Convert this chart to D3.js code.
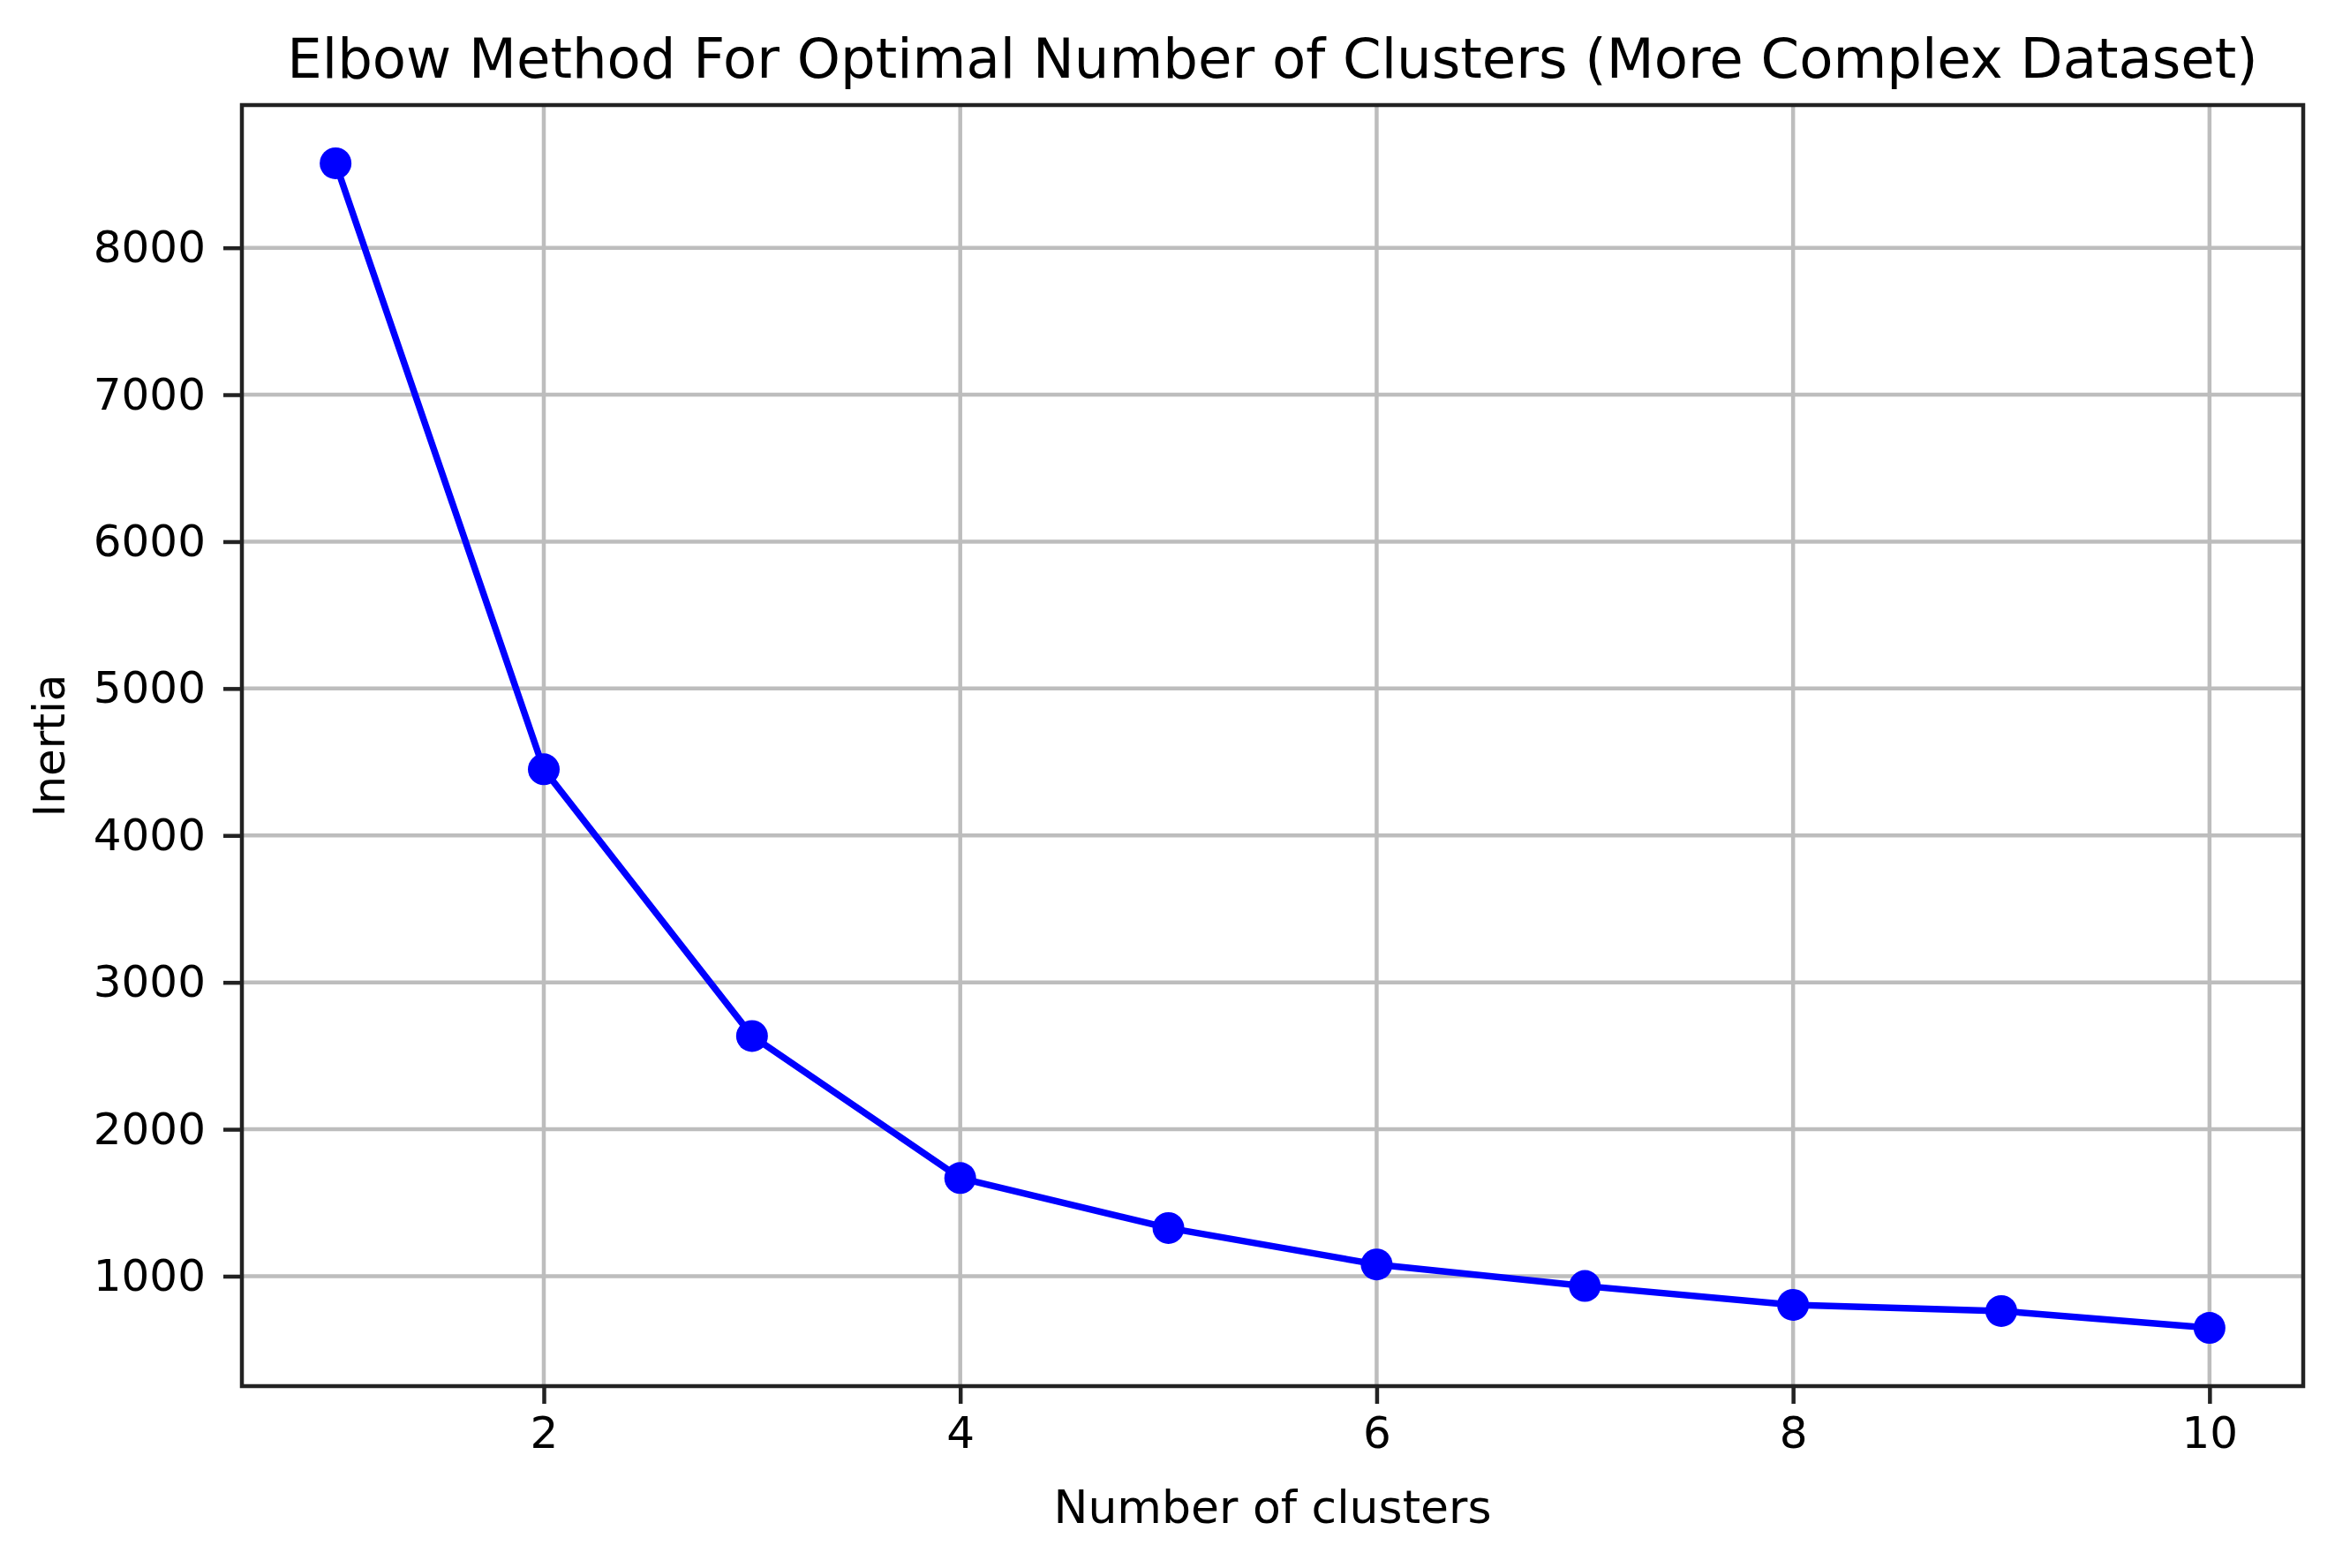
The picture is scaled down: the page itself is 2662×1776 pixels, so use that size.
<!DOCTYPE html>
<html>
<head>
<meta charset="utf-8">
<script src="https://cdn.jsdelivr.net/npm/d3@7"></script>
<style>
  html, body { margin: 0; padding: 0; background: #fff; }
  svg { display: block; }
  text { font-family: "DejaVu Sans", sans-serif; fill: #000; }
</style>
</head>
<body>
<svg id="chart" width="2662" height="1776"></svg>
<script>
// ---- data ----
const clusters = [1, 2, 3, 4, 5, 6, 7, 8, 9, 10];
const inertia = [8575, 4450, 2635, 1668, 1328, 1080, 933, 805, 763, 648];
const xTicks = [2, 4, 6, 8, 10];
const yTicks = [1000, 2000, 3000, 4000, 5000, 6000, 7000, 8000];
const titleText = "Elbow Method For Optimal Number of Clusters (More Complex Dataset)";
const xLabelText = "Number of clusters";
const yLabelText = "Inertia";

// ---- layout ----
const W = 2662, H = 1776;
const plot = { left: 274, right: 2609, top: 119, bottom: 1570 };

const svg = d3.select("#chart");

// matplotlib-style 5% margins
const xMin = d3.min(clusters), xMax = d3.max(clusters);
const xPad = (xMax - xMin) * 0.05;
const yMin = d3.min(inertia), yMax = d3.max(inertia);
const yPad = (yMax - yMin) * 0.05;

const x = d3.scaleLinear().domain([xMin - xPad, xMax + xPad]).range([plot.left, plot.right]);
const y = d3.scaleLinear().domain([yMin - yPad, yMax + yPad]).range([plot.bottom, plot.top]);

const gridColor = "#bdbdbd";

// grid
const grid = svg.append("g");
grid.selectAll("line.vx").data(xTicks).enter().append("line")
  .attr("x1", d => x(d)).attr("x2", d => x(d))
  .attr("y1", plot.top).attr("y2", plot.bottom)
  .attr("stroke", gridColor).attr("stroke-width", 4.5);
grid.selectAll("line.hy").data(yTicks).enter().append("line")
  .attr("y1", d => y(d)).attr("y2", d => y(d))
  .attr("x1", plot.left).attr("x2", plot.right)
  .attr("stroke", gridColor).attr("stroke-width", 4.5);

// axes via d3
const xAxis = d3.axisBottom(x).tickValues(xTicks).tickFormat(d3.format("d"))
  .tickSize(20).tickPadding(14);
const yAxis = d3.axisLeft(y).tickValues(yTicks).tickFormat(d3.format("d"))
  .tickSize(21).tickPadding(20);

const gx = svg.append("g").attr("transform", `translate(0,${plot.bottom})`).call(xAxis);
const gy = svg.append("g").attr("transform", `translate(${plot.left},0)`).call(yAxis);
[gx, gy].forEach(g => {
  g.select(".domain").remove();
  g.selectAll(".tick line").attr("stroke", "#222").attr("stroke-width", 4.5);
  g.selectAll(".tick text").attr("fill", "#111")
    .style("font-family", "'DejaVu Sans', sans-serif").style("font-size", "50px");
});
gx.selectAll(".tick text").attr("dy", "0.72em");

// line + markers
const line = d3.line().x((d, i) => x(clusters[i])).y(d => y(d));
svg.append("path").datum(inertia)
  .attr("d", line).attr("fill", "none")
  .attr("stroke", "#0000ff").attr("stroke-width", 7.5)
  .attr("stroke-linejoin", "round");
svg.append("g").selectAll("circle").data(inertia).enter().append("circle")
  .attr("cx", (d, i) => x(clusters[i])).attr("cy", d => y(d))
  .attr("r", 18).attr("fill", "#0000ff");

// spines
svg.append("rect")
  .attr("x", plot.left).attr("y", plot.top)
  .attr("width", plot.right - plot.left).attr("height", plot.bottom - plot.top)
  .attr("fill", "none").attr("stroke", "#222").attr("stroke-width", 4.5);

// title
svg.append("text")
  .attr("x", (plot.left + plot.right) / 2).attr("y", 88)
  .attr("text-anchor", "middle").style("font-size", "62.5px").attr("fill", "#111")
  .text(titleText);

// x label
svg.append("text")
  .attr("x", (plot.left + plot.right) / 2).attr("y", 1725)
  .attr("text-anchor", "middle").style("font-size", "52px").attr("fill", "#111")
  .text(xLabelText);

// y label
svg.append("text")
  .attr("transform", `translate(73,${(plot.top + plot.bottom) / 2}) rotate(-90)`)
  .attr("text-anchor", "middle").style("font-size", "50px").attr("fill", "#111")
  .text(yLabelText);
</script>
</body>
</html>
